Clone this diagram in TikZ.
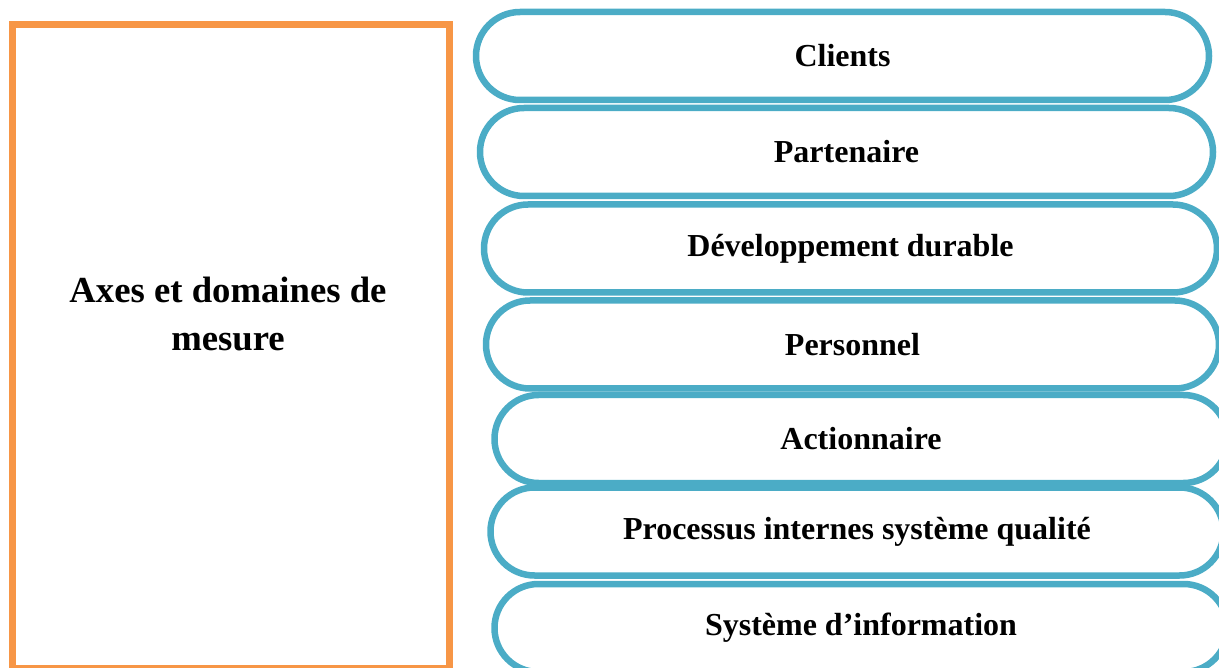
\documentclass[tikz,border=0pt]{standalone}
\usepackage{fontspec}
\setmainfont{Liberation Serif}
\definecolor{boxorange}{RGB}{247,150,70}
\definecolor{pillblue}{RGB}{75,172,198}
\begin{document}
\begin{tikzpicture}[x=1pt,y=-1pt,
  axisbox/.style={draw=boxorange, line width=7pt, minimum width=437pt, minimum height=643pt, inner sep=0pt},
  titletext/.style={font=\bfseries\fontsize{36.7}{48}\selectfont, align=center},
  pill/.style={draw=pillblue, line width=6.5pt, rounded corners=44pt, minimum width=733pt, minimum height=88pt, inner sep=0pt,
    font=\bfseries\fontsize{32}{36}\selectfont}]
  \useasboundingbox (0,0) rectangle (1219,668);
  \begin{scope}
    \clip (0,0) rectangle (1219,668);
    % measurement axes box on the left
    \node[axisbox] (axes) at (231,346.5) {};
    \node[titletext] (title) at (228,314) {Axes et domaines de\\mesure};
    % stacked domain pills
    \node[pill] (p1) at (842.5,56) {Clients};
    \node[pill] (p2) at (846.5,152) {Partenaire};
    \node[pill] (p3) at (850.5,248.5) {Développement durable};
    \node[pill] (p4) at (852.5,344.5) {Personnel};
    \node[pill] (p5) at (861,439) {Actionnaire};
    \node[pill] (p6) at (857,531.5) {Processus internes système qualité};
    \node[pill] (p7) at (861,628) {Système d’information};
  \end{scope}
\end{tikzpicture}
\end{document}
